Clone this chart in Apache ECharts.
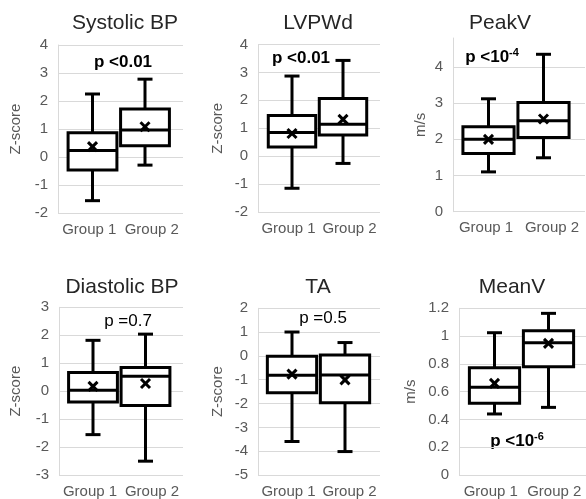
<!DOCTYPE html>
<html>
<head>
<meta charset="utf-8">
<script src="https://cdn.jsdelivr.net/npm/echarts@6/dist/echarts.min.js"></script>
<style>html,body{margin:0;padding:0;background:#fff}#c{width:586px;height:499px}</style>
</head>
<body>
<div id="c"></div>
<script>
// ---- data ----
const categories = ['Group 1', 'Group 2'];
const panelTitles = ['Systolic BP', 'LVPWd', 'PeakV', 'Diastolic BP', 'TA', 'MeanV'];
const axisNames = ['Z-score', 'Z-score', 'm/s', 'Z-score', 'Z-score', 'm/s'];
const pTexts = ['p <0.01', 'p <0.01', 'p <10', 'p =0.7', 'p =0.5', 'p <10'];
const pSup = ['', '', '-4', '', '', '-6'];
const pBold = [true, true, true, false, false, true];
// each group: [min, q1, median, q3, max, mean]
const sysBP_g1 = [-1.56, -0.46, 0.23, 0.87, 2.25, 0.37];
const sysBP_g2 = [-0.29, 0.40, 0.96, 1.71, 2.78, 1.08];
const lvpwd_g1 = [-1.15, 0.33, 0.85, 1.46, 2.87, 0.81];
const lvpwd_g2 = [-0.26, 0.76, 1.14, 2.07, 3.43, 1.32];
const peakV_g1 = [1.10, 1.61, 2.00, 2.35, 3.12, 2.00];
const peakV_g2 = [1.49, 2.05, 2.51, 3.02, 4.35, 2.56];
const diaBP_g1 = [-1.51, -0.35, 0.06, 0.69, 1.83, 0.20];
const diaBP_g2 = [-2.45, -0.48, 0.56, 0.87, 2.05, 0.30];
const ta_g1 = [-3.56, -1.52, -0.79, 0.00, 1.01, -0.75];
const ta_g2 = [-3.98, -1.94, -0.78, 0.05, 0.57, -0.99];
const meanV_g1 = [0.447, 0.523, 0.637, 0.777, 1.026, 0.665];
const meanV_g2 = [0.494, 0.784, 0.955, 1.040, 1.164, 0.950];
const yMins = [-2, -2, 0, -3, -5, 0];
const yMaxs = [4, 4, 4.8, 3, 2, 1.2];
const yIntervals = [1, 1, 1, 1, 1, 0.2];

const groupData = [
  [sysBP_g1, sysBP_g2], [lvpwd_g1, lvpwd_g2], [peakV_g1, peakV_g2],
  [diaBP_g1, diaBP_g2], [ta_g1, ta_g2], [meanV_g1, meanV_g2]
];

// ---- layout ----
const gridA = [ // left, top, width, height
  [58, 45, 125, 168], [258, 44.5, 122, 167.5], [453, 38, 132, 173.7],
  [59, 307.3, 124, 169.4], [258, 308.3, 122, 167.7], [459, 308.3, 127, 168.4]
];
const gridBX = [ // left, width (box slots)
  [66.25, 105], [266.5, 102], [461, 110], [66.75, 105], [265.5, 106], [467.5, 108]
];
const nameGaps = [35, 33, 25, 36, 33, 41];
const titlePos = [[125, 23], [318, 23], [500, 23], [122, 287], [318, 287], [512, 287]];
const pPos = [[123, 62], [301, 58], [492, 57], [128, 321], [323, 318], [517, 441]];

const FONT = '"Liberation Sans", Arial, sans-serif';
const grey = '#d9d9d9';

function renderBox(params, api) {
  const idx = api.value(0);
  const cx = api.coord([idx, 0])[0];
  const band = api.size([1, 0])[0];
  const w = band * 0.93;
  const cap = 15;
  const yy = k => api.coord([idx, api.value(k)])[1];
  const yMin = yy(1), yQ1 = yy(2), yMed = yy(3), yQ3 = yy(4), yMax = yy(5), yMean = yy(6);
  const st = { stroke: '#000', lineWidth: 3, fill: null };
  const ln = (x1, y1, x2, y2) => ({ type: 'line', shape: { x1, y1, x2, y2 }, style: st });
  const m = 4.5;
  return {
    type: 'group',
    children: [
      ln(cx, yQ3, cx, yMax),
      ln(cx, yQ1, cx, yMin),
      ln(cx - cap / 2, yMax, cx + cap / 2, yMax),
      ln(cx - cap / 2, yMin, cx + cap / 2, yMin),
      { type: 'rect', shape: { x: cx - w / 2, y: yQ3, width: w, height: yQ1 - yQ3 },
        style: { fill: '#fff', stroke: '#000', lineWidth: 3 } },
      ln(cx - w / 2, yMed, cx + w / 2, yMed),
      ln(cx - m, yMean - m, cx + m, yMean + m),
      ln(cx - m, yMean + m, cx + m, yMean - m)
    ]
  };
}

const option = {
  animation: false,
  backgroundColor: '#fff',
  textStyle: { fontFamily: FONT },
  grid: [], xAxis: [], yAxis: [], series: [], graphic: []
};

for (let i = 0; i < 6; i++) {
  const [l, t, w, h] = gridA[i];
  const [bl, bw] = gridBX[i];
  option.grid.push({ left: l, top: t, width: w, height: h });
  option.grid.push({ left: bl, top: t, width: bw, height: h });
  const a = 2 * i, b = 2 * i + 1;
  option.xAxis.push({
    gridIndex: a, type: 'category', data: categories,
    axisLine: { show: false }, axisTick: { show: false },
    axisLabel: { color: '#595959', fontSize: 15, margin: 9, interval: 0, hideOverlap: false, fontFamily: FONT }
  });
  option.xAxis.push({ gridIndex: b, type: 'category', data: categories, show: false });
  const hideTop = (i === 2);
  option.yAxis.push({
    gridIndex: a, type: 'value', min: yMins[i], max: yMaxs[i], interval: yIntervals[i],
    name: axisNames[i], nameLocation: 'middle', nameGap: nameGaps[i],
    nameTextStyle: { color: '#595959', fontSize: 15, fontFamily: FONT },
    axisLine: { show: true, lineStyle: { color: grey, width: 1 } },
    axisTick: { show: false },
    axisLabel: { color: '#595959', fontSize: 15, margin: 10, fontFamily: FONT, showMaxLabel: !hideTop },
    splitLine: { show: true, showMaxLine: !hideTop, lineStyle: { color: grey, width: 1 } }
  });
  option.yAxis.push({ gridIndex: b, type: 'value', min: yMins[i], max: yMaxs[i], interval: yIntervals[i], show: false });
  option.series.push({
    type: 'custom', xAxisIndex: b, yAxisIndex: b,
    data: groupData[i].map((g, k) => [k].concat(g)),
    encode: { x: 0, y: [1, 2, 3, 4, 5] },
    renderItem: renderBox
  });
  option.graphic.push({
    type: 'text', x: titlePos[i][0], y: titlePos[i][1],
    style: { text: panelTitles[i], fontSize: 21, fontFamily: FONT, fill: '#262626', align: 'center', verticalAlign: 'middle' }
  });
  const wt = pBold[i] ? 'bold' : 'normal';
  option.graphic.push({
    type: 'text', x: pPos[i][0], y: pPos[i][1],
    style: {
      text: pSup[i] ? '{b|' + pTexts[i] + '}{s|' + pSup[i] + '}' : '{b|' + pTexts[i] + '}',
      align: 'center', verticalAlign: 'middle', fill: '#000', fontFamily: FONT,
      rich: {
        b: { fontSize: 17, fontWeight: wt, fontFamily: FONT, fill: '#000', lineHeight: 20 },
        s: { fontSize: 11, fontWeight: wt, fontFamily: FONT, fill: '#000', verticalAlign: 'top', lineHeight: 12 }
      }
    }
  });
}

const chart = echarts.init(document.getElementById('c'), null, { renderer: 'canvas' });
chart.setOption(option);
</script>
</body>
</html>
